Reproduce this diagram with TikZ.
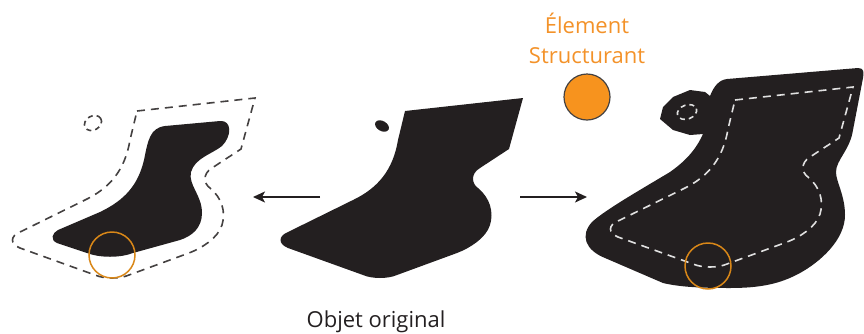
\documentclass[tikz,border=0pt]{standalone}
\usepackage{fontspec}
\setmainfont{Open Sans}
\usetikzlibrary{arrows.meta}
\definecolor{inkblack}{HTML}{231F20}
\definecolor{seorange}{HTML}{F7931E}
\definecolor{txtorange}{HTML}{F39229}
\definecolor{ringorange}{HTML}{D98718}
\newcommand\origoutline{(405,111) -- (523,98) -- (509,149) -- (480,168)
  .. controls (470,174) and (472,184) .. (478,188)
  .. controls (490,198) and (494,212) .. (490,225)
  .. controls (486,238) and (470,248) .. (457,253)
  -- (397,275) .. controls (388,279) and (372,279) .. (363,275)
  -- (288,248) .. controls (278,244) and (278,236) .. (288,232)
  -- (353,200) .. controls (378,188) and (393,170) .. (398,140) -- cycle}
\tikzset{
  shapefill/.style={fill=inkblack, draw=none},
  outerdash/.style={draw=inkblack!85, line width=1.6pt, dash pattern=on 8pt off 6pt},
  innerdash/.style={draw=white!88!black, line width=1.6pt, dash pattern=on 8pt off 6pt},
  ring/.style={draw=ringorange, line width=1.5pt},
  flow/.style={draw=inkblack, line width=1.5pt, -{Stealth[length=12pt,width=11pt,inset=3pt]}},
  label/.style={font=\fontsize{22}{26}\selectfont, inner sep=0pt, anchor=base},
}
\begin{document}
\begin{tikzpicture}[x=1pt,y=-1pt]
\useasboundingbox (0,0) rectangle (864,333);

% ---- original object (centre)
\fill[shapefill] \origoutline;
\fill[shapefill, rotate around={-30:(382,126)}] (382,126) ellipse [x radius=7.5, y radius=5];

% ---- erosion (left)
\fill[shapefill] (58,230) -- (100,212)
  .. controls (125,200) and (138,185) .. (144,160)
  .. controls (148,140) and (150,128) .. (165,126)
  -- (220,121) .. controls (232,120) and (232,136) .. (222,146)
  .. controls (212,154) and (195,158) .. (191,172)
  .. controls (188,185) and (202,195) .. (202,213)
  .. controls (202,228) and (192,236) .. (180,240)
  -- (133,253) .. controls (120,258) and (100,258) .. (87,253)
  -- (57,243) .. controls (50,240) and (52,233) .. (58,230) -- cycle;
\begin{scope}[shift={(-268,0)}]
  \draw[outerdash] \origoutline;
\end{scope}
\draw[outerdash, dash pattern=on 5pt off 4pt, rotate around={30:(93,123)}] (93,123) ellipse [x radius=9, y radius=7];
\draw[ring] (112,255) circle [radius=23];

% ---- dilation (right)
\fill[shapefill] (660,119) -- (663,107) -- (673,97) -- (690,90) -- (705,92) -- (710,96)
  .. controls (714,86) and (719,80) .. (727,79)
  -- (858,68) .. controls (864,68) and (864,72) .. (863,78)
  -- (853,130) .. controls (850,150) and (836,160) .. (836,172)
  .. controls (836,182) and (845,195) .. (845,215)
  .. controls (845,240) and (820,262) .. (800,273)
  .. controls (780,284) and (760,288) .. (730,288)
  .. controls (700,288) and (680,287) .. (663,283)
  -- (605,258) .. controls (585,250) and (580,235) .. (592,222)
  .. controls (605,210) and (640,190) .. (670,172)
  .. controls (690,158) and (698,145) .. (703,134)
  -- (690,135) -- (673,130) -- cycle;
\begin{scope}[shift={(330,-11)}]
  \draw[innerdash] \origoutline;
\end{scope}
\draw[innerdash, dash pattern=on 5pt off 4pt, rotate around={20:(687,112)}] (687,112) ellipse [x radius=10, y radius=7];
\draw[ring] (708,266) circle [radius=23];

% ---- structuring element
\node[label, text=txtorange] (titleA) at (587,33) {Élement};
\node[label, text=txtorange] (titleB) at (587,63) {Structurant};
\node[circle, fill=seorange, draw=inkblack!85, line width=1.2pt, minimum size=46pt, inner sep=0pt] (se) at (587,97) {};

% ---- caption
\node[label, text=inkblack] (caption) at (376,327) {Objet original};

% ---- arrows
\coordinate (midL) at (320,197);
\coordinate (erodeEnd) at (253,197);
\coordinate (midR) at (520,197);
\coordinate (dilateEnd) at (587,197);
\draw[flow] (midL) -- (erodeEnd);
\draw[flow] (midR) -- (dilateEnd);
\end{tikzpicture}
\end{document}
